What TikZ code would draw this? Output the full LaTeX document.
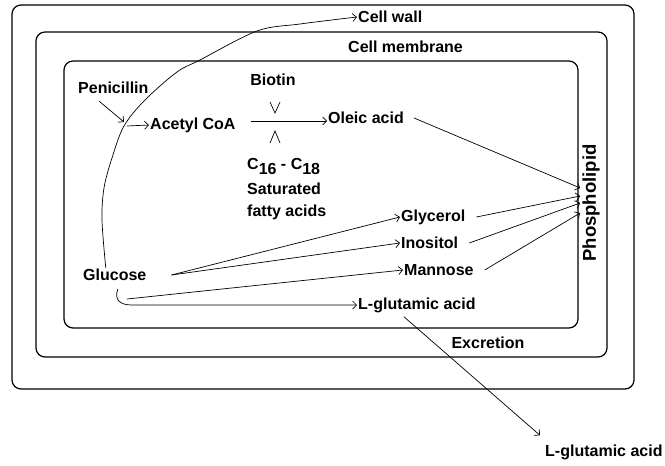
\documentclass[tikz,border=0pt]{standalone}
\usepackage{fontspec}
\setmainfont{Liberation Sans}
\usetikzlibrary{arrows.meta}
\begin{document}
\begin{tikzpicture}[x=1pt,y=-1pt,
  lbl/.style={font=\bfseries\fontsize{16}{18}\selectfont, inner sep=1pt, anchor=west},
  arr/.style={line width=0.7pt, -{Straight Barb[length=4pt,width=8pt]}},
  vmark/.style={line width=0.7pt},
  box/.style={line width=1.2pt, rounded corners=9pt}]
\useasboundingbox[fill=white] (0,0) rectangle (665,466);
% compartments
\draw[box] (12,5) rectangle (634,389);
\draw[box] (36,32) rectangle (607,357);
\draw[box] (64,61) rectangle (578,328);
% labels
\node[lbl] (cw) at (357,17) {Cell wall};
\node[lbl] (cm) at (347,47) {Cell membrane};
\node[lbl] (pen) at (77,88) {Penicillin};
\node[lbl] (acoa) at (149,125) {Acetyl CoA};
\node[lbl, anchor=center] (bio) at (273,80) {Biotin};
\node[lbl] (ole) at (327,118) {Oleic acid};
\node[lbl] (c16) at (246,166) {C\raisebox{-5pt}{16} - C\raisebox{-5pt}{18}};
\node[lbl] (sat) at (246,189) {Saturated};
\node[lbl] (fat) at (246,212) {fatty acids};
\node[lbl] (gly) at (400,217) {Glycerol};
\node[lbl] (ino) at (400,243) {Inositol};
\node[lbl] (man) at (403,270) {Mannose};
\node[lbl] (glu) at (82,275) {Glucose};
\node[lbl] (lglu) at (357,305) {L-glutamic acid};
\node[lbl, anchor=center] (exc) at (488,343) {Excretion};
\node[lbl] (lglu2) at (544,452) {L-glutamic acid};
\node[lbl, anchor=center, rotate=90, font=\bfseries\fontsize{18.5}{20}\selectfont] (phos) at (591,203) {Phospholipid};
% curve glucose -> cell wall
\draw[arr] plot[smooth, tension=0.55] coordinates {([xshift=-9pt]glu.north) (102,220) (104,188) (112,158) (124,126) (145,100) (177,72) (200,60) (257,31) (300,24) (cw.west)};
\coordinate (pj) at (124,122);
\draw[arr] ([shift={(22,6)}]pen.south west) -- (pj);
\draw[arr] (127,126) -- (acoa.west);
% biotin step
\draw[arr] ([shift={(14,-4)}]acoa.east) coordinate (hs) -- (hs -| ole.west);
\draw[vmark] (270,102) -- (275,113) -- (280,102);
\draw[vmark] (270,143) -- (275,131) -- (280,143);
% glucose products
\draw[arr] ([xshift=24pt]glu.east) -- (gly.west);
\draw[arr] ([xshift=24pt]glu.east) -- (ino.west);
\draw[arr] ([shift={(45,24)}]glu.west) -- (man.west);
\draw[arr] ([shift={(3,7)}]glu.south) .. controls (114,300) and (120,305) .. (132,305) -- (lglu.west);
% to phospholipid
\draw[arr] ([xshift=9pt]ole.east) -- ([shift={(-1,-15)}]phos.north);
\draw[arr] ([xshift=10pt]gly.east) -- ([shift={(-1,-7)}]phos.north);
\draw[arr] ([xshift=10pt]ino.east) -- ([shift={(-1,0)}]phos.north);
\draw[arr] ([xshift=10pt]man.east) -- ([shift={(-1,10)}]phos.north);
% excretion
\draw[arr] ([shift={(-13,3)}]lglu.south) -- ([shift={(-4,-8)}]lglu2.north west);
\end{tikzpicture}
\end{document}
